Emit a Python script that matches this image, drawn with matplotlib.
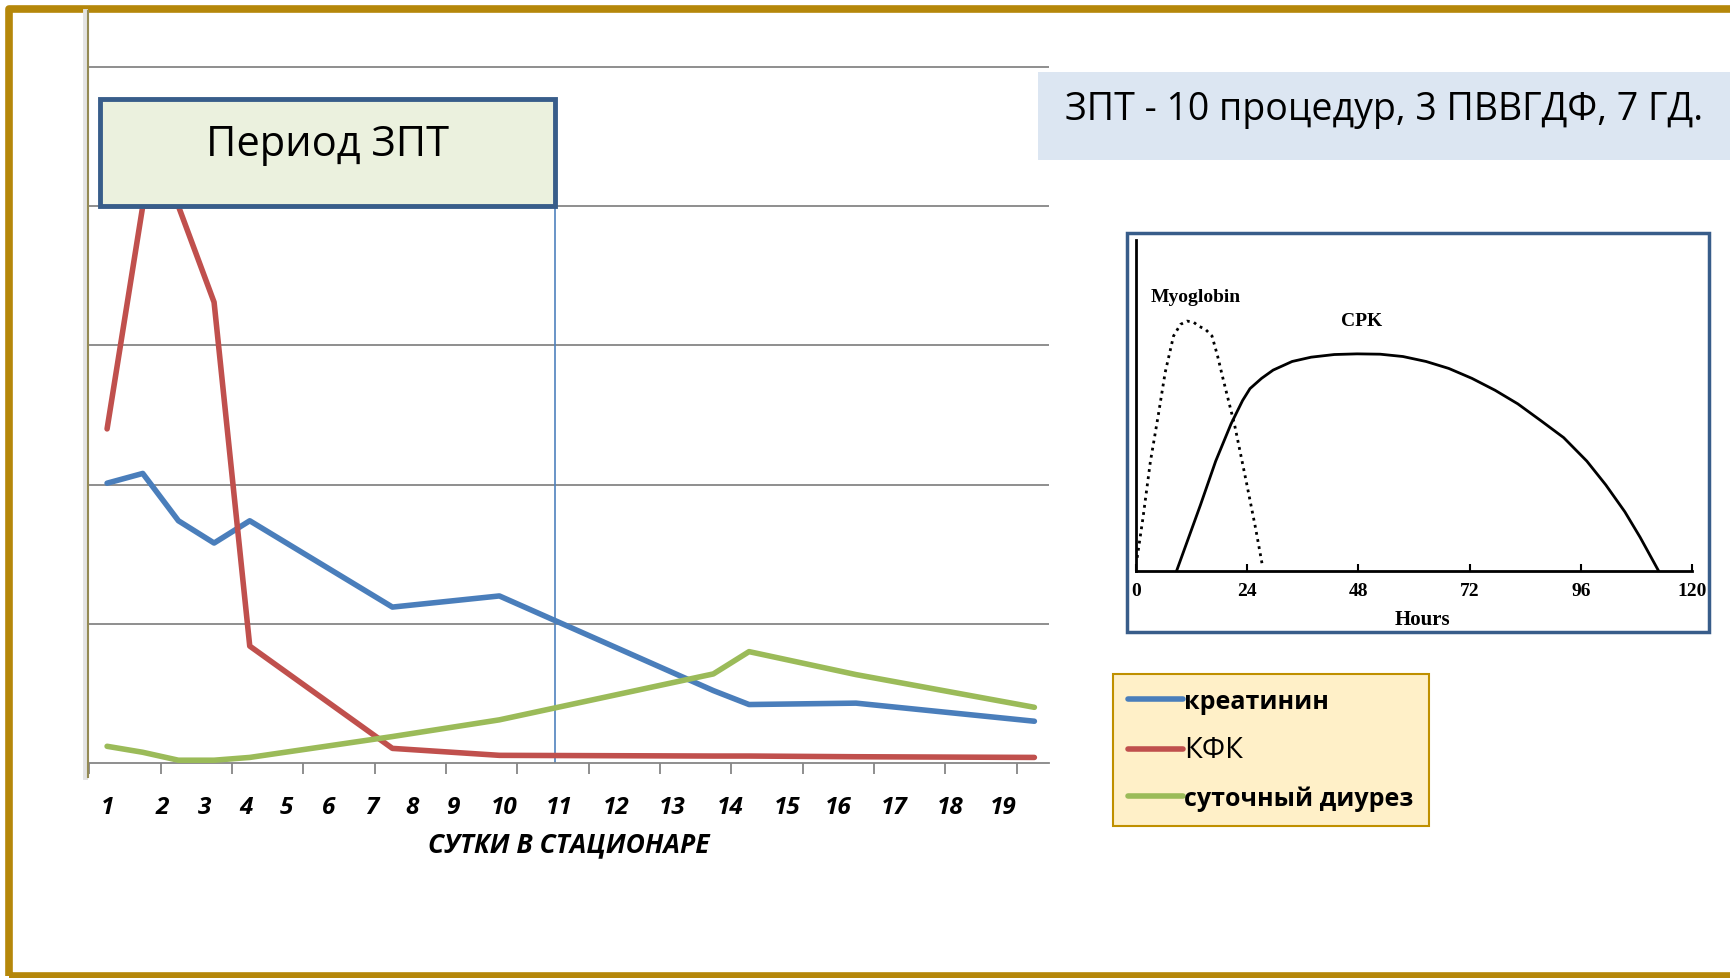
import matplotlib.pyplot as plt
import numpy as np
from matplotlib.patches import Rectangle
from matplotlib.lines import Line2D

plt.rcParams['font.family'] = ['Open Sans', 'DejaVu Sans']

# main chart: measurement index along the stay, values in grid units
t_idx = [0, 1, 2, 3, 4, 8, 11, 17, 18, 21, 26]
creatinine = [2.01, 2.08, 1.74, 1.58, 1.74, 1.12, 1.20, 0.52, 0.42, 0.43, 0.30]
kfk = [2.40, 4.00, 4.00, 3.31, 0.84, 0.105, 0.055, 0.05, 0.05, 0.045, 0.04]
diuresis = [0.12, 0.077, 0.02, 0.02, 0.04, 0.19, 0.31, 0.64, 0.80, 0.635, 0.40]
series_names = ['креатинин', 'КФК', 'суточный диурез']
series_colors = ['#4A7EBB', '#C0504D', '#9BBB59']

day_labels = [str(d) for d in range(1, 20)]
day_pos = [0.0, 1.55, 2.74, 3.89, 5.04, 6.22, 7.41, 8.54, 9.73, 11.13,
           12.69, 14.27, 15.85, 17.48, 19.06, 20.50, 22.06, 23.64, 25.12]
zpt_end = 12.57

# inset: myoglobin / CPK kinetics (hours, relative level)
myo_h = [0.25, 1.5, 3.1, 4.8, 6.3, 8.1, 9.6, 11.0, 12.4, 13.5, 15.0, 16.4,
         17.6, 18.8, 21.3, 23.8, 25.8, 27.3]
myo_v = [4, 16, 33, 47, 60, 71, 74.5, 75.5, 75.2, 74, 73, 71, 65, 58, 44, 27, 13, 1.5]
cpk_h = [8.75, 11.0, 13.9, 17.2, 20.5, 23.0, 24.6, 27.1, 29.6, 33.7, 37.8, 42.8,
         47.7, 52.7, 57.6, 62.6, 67.5, 72.5, 77.5, 82.4, 87.4, 92.3, 97.3,
         101.4, 105.5, 108.8, 112.8]
cpk_v = [0, 8.7, 19.9, 33.2, 44.4, 51.5, 55.1, 58.2, 60.7, 63.3, 64.6, 65.4,
         65.6, 65.5, 64.8, 63.3, 61.2, 58.2, 54.6, 50.5, 45.4, 40.3, 33.2,
         26.0, 17.9, 10.2, 0]
hour_ticks = [0, 24, 48, 72, 96, 120]

W, H = 1731, 979
fig = plt.figure(figsize=(W / 100, H / 100), dpi=100)


def fx(px):
    return px / W


def fy(py):
    return 1 - py / H


# golden slide frame
fig.add_artist(Rectangle((fx(9), fy(977)), 1.2, fy(10) - fy(977), transform=fig.transFigure,
                         fill=False, edgecolor='#B5870A', linewidth=5.5, joinstyle='round',
                         clip_on=False))

# main chart
ax = fig.add_axes([fx(88), fy(764), fx(1049) - fx(88), fy(22) - fy(764)])
for y, name, c in zip([creatinine, kfk, diuresis], series_names, series_colors):
    ax.plot(t_idx, y, color=c, lw=4, label=name, solid_capstyle='round', zorder=3)

ax.set_xlim(-0.535, 26.41)
ax.set_ylim(0, 5.33)
ax.set_yticks(range(1, 6))
ax.yaxis.grid(True, color='#868686', lw=1.3)
ax.tick_params(axis='y', length=0, labelleft=False)
for s in ['top', 'right', 'left']:
    ax.spines[s].set_visible(False)
ax.spines['bottom'].set_color('#868686')
ax.spines['bottom'].set_linewidth(1.3)

ax.set_xticks(day_pos)
ax.set_xticklabels(day_labels, fontsize=17.5, fontweight='bold', fontstyle='italic')
ax.set_xticks(np.arange(-0.5, 26, 2), minor=True)
ax.tick_params(axis='x', which='major', length=0, pad=23)
ax.tick_params(axis='x', which='minor', length=8, width=1.3, color='#868686', direction='out')
ax.set_xlabel('СУТКИ В СТАЦИОНАРЕ', fontsize=19, fontweight='bold', fontstyle='italic', labelpad=8)

# end of renal replacement therapy period
ax.plot([zpt_end, zpt_end], [0, 4.2], color='#4F81BD', lw=1.2, zorder=2)
ax.add_patch(Rectangle((-0.185, 4.0), zpt_end + 0.185, 0.77, facecolor='#EBF1DE',
                       edgecolor='#385D8A', lw=3.5, zorder=5, clip_on=False))
ax.text((zpt_end - 0.185) / 2, 4.45, 'Период ЗПТ', fontsize=30, ha='center', va='center', zorder=6)

# value axis line of the slide chart
fig.add_artist(Line2D([fx(85), fx(85)], [fy(778), fy(12)], color='#E3E3E3', lw=3.5))
fig.add_artist(Line2D([fx(88), fx(88)], [fy(778), fy(12)], color='#948A54', lw=1.5))

# note box top right
fig.add_artist(Rectangle((fx(1038), fy(161)), fx(1731) - fx(1038), fy(73) - fy(161),
                         transform=fig.transFigure, facecolor='#DCE6F2', edgecolor='none'))
fig.text(fx(1065), fy(110), 'ЗПТ - 10 процедур, 3 ПВВГДФ, 7 ГД.', fontsize=27, va='center')

# inset picture border
fig.add_artist(Rectangle((fx(1127), fy(633)), fx(1709) - fx(1127), fy(234) - fy(633),
                         transform=fig.transFigure, facecolor='none', edgecolor='#385D8A', lw=2.5))

ax2 = fig.add_axes([fx(1136), fy(572), fx(1692) - fx(1136), fy(241) - fy(572)])
ax2.patch.set_alpha(0)
ax2.plot(myo_h, myo_v, color='black', lw=2, linestyle=(0, (1, 1.6)))
ax2.plot(cpk_h, cpk_v, color='black', lw=2)
ax2.set_xlim(0, 120)
ax2.set_ylim(0, 100)
ax2.set_xticks(hour_ticks)
ax2.set_yticks([])
serif = ['Liberation Serif', 'DejaVu Serif']
ax2.set_xticklabels([str(h) for h in hour_ticks], fontsize=14, fontweight='bold', family=serif)
ax2.tick_params(axis='x', direction='in', length=5, width=1.5, pad=8)
ax2.set_xlabel('Hours', fontsize=15, fontweight='bold', family=serif, labelpad=2)
ax2.xaxis.set_label_coords(0.516, -0.115)
for s in ['top', 'right']:
    ax2.spines[s].set_visible(False)
for s in ['left', 'bottom']:
    ax2.spines[s].set_linewidth(2)
ax2.text(12.8, 82.8, 'Myoglobin', fontsize=14, fontweight='bold', family=serif, ha='center', va='center')
ax2.text(48.8, 75.8, 'CPK', fontsize=14, fontweight='bold', family=serif, ha='center', va='center')

# legend
leg = fig.legend(*ax.get_legend_handles_labels(), loc='upper left',
                 bbox_to_anchor=(fx(1113), fy(675)), borderaxespad=0,
                 prop={'weight': 'bold', 'size': 18}, handlelength=2.2, handletextpad=0.05,
                 labelspacing=0.85, borderpad=0.6, fancybox=False, framealpha=1,
                 facecolor='#FFF0C8', edgecolor='#BF9000')
leg.get_frame().set_linewidth(1.5)
leg.get_texts()[1].set_fontweight('normal')
leg.get_texts()[1].set_fontsize(21)

fig.savefig('out.png', dpi=100)
